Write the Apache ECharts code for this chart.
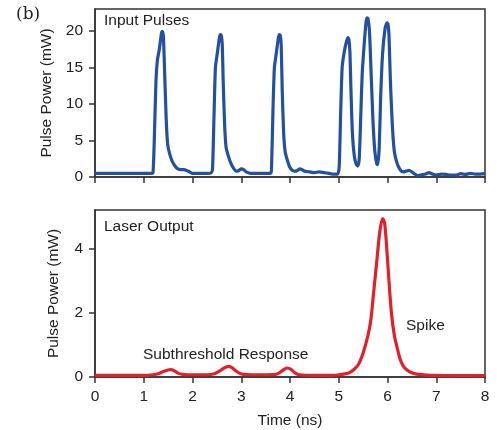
<!DOCTYPE html>
<html>
<head>
<meta charset="utf-8">
<script src="https://cdn.jsdelivr.net/npm/echarts@6/dist/echarts.min.js"></script>
<style>
  html, body { margin: 0; padding: 0; background: #fff; }
  #chart { width: 497px; height: 430px; }
</style>
</head>
<body>
<div id="chart"></div>
<script>
// Input optical pulses: [time (ns), power (mW)]
const inputPulses = [
  [0,0.5],[0.2,0.5],[0.4,0.5],[0.6,0.5],[0.8,0.5],[1.0,0.5],[1.15,0.5],[1.19,0.6],
  [1.22,6],[1.25,13],[1.28,16],[1.32,17.5],[1.355,19.3],[1.37,19.9],[1.39,19.9],[1.405,19.0],[1.43,14],
  [1.46,8],[1.49,4.5],[1.53,3.2],[1.58,2.2],[1.64,1.5],[1.70,1.1],[1.76,1.0],[1.82,1.0],
  [1.88,0.9],[1.94,0.7],[2.0,0.5],[2.1,0.5],[2.2,0.5],[2.3,0.5],[2.38,0.55],[2.41,1],
  [2.44,8],[2.47,15],[2.51,17],[2.55,19],[2.57,19.5],[2.59,19.4],[2.61,18.2],[2.63,13],[2.66,7],
  [2.69,4],[2.73,3],[2.78,2],[2.84,1.2],[2.9,0.8],[2.95,0.9],[3.0,1.1],[3.05,1.0],
  [3.1,0.7],[3.2,0.5],[3.3,0.5],[3.4,0.5],[3.5,0.5],[3.6,0.5],[3.62,1],[3.65,9],
  [3.68,15],[3.72,17],[3.76,19],[3.78,19.5],[3.80,19.4],[3.82,18],[3.84,12],[3.87,6],[3.90,3.5],
  [3.95,2.2],[4.0,1.3],[4.05,0.9],[4.1,0.8],[4.15,0.9],[4.2,1.1],[4.25,1.0],[4.3,0.8],
  [4.4,0.7],[4.5,0.6],[4.6,0.7],[4.7,0.6],[4.8,0.5],[4.9,0.4],[4.98,0.4],[5.01,1.5],
  [5.04,9],[5.07,15],[5.11,17],[5.16,18.6],[5.19,19.1],[5.21,18.8],[5.23,17],[5.25,12],[5.28,6],
  [5.32,2.8],[5.36,1.7],[5.39,1.5],[5.42,2.5],[5.45,8],[5.48,14],[5.52,18],[5.56,21.2],
  [5.58,21.8],[5.60,21.7],[5.63,20],[5.66,15],[5.70,8],[5.74,3.5],[5.78,1.8],[5.80,1.7],[5.83,4],
  [5.86,11],[5.90,17],[5.95,20.3],[5.99,21.1],[6.01,20.9],[6.03,19.5],[6.06,13],[6.1,7],[6.14,3.5],
  [6.2,1.8],[6.26,1.0],[6.32,0.7],[6.38,0.8],[6.44,0.9],[6.5,0.7],[6.56,0.4],[6.62,0.2],
  [6.7,0.3],[6.78,0.4],[6.85,0.6],[6.92,0.4],[7.0,0.25],[7.1,0.4],[7.2,0.35],[7.3,0.25],
  [7.4,0.25],[7.5,0.45],[7.6,0.35],[7.7,0.5],[7.8,0.4],[7.9,0.4],[8.0,0.45]
];

// Laser output: [time (ns), power (mW)]
const laserOutput = [
  [0,0.05],[0.5,0.05],[1.0,0.05],[1.2,0.07],[1.3,0.1],[1.4,0.17],[1.5,0.22],[1.55,0.23],
  [1.62,0.2],[1.7,0.12],[1.8,0.08],[1.9,0.07],[2.1,0.07],[2.3,0.07],[2.45,0.1],[2.55,0.18],
  [2.65,0.28],[2.73,0.33],[2.8,0.3],[2.88,0.2],[2.96,0.12],[3.05,0.08],[3.2,0.07],[3.5,0.07],
  [3.7,0.08],[3.8,0.15],[3.88,0.24],[3.95,0.28],[4.02,0.24],[4.1,0.13],[4.2,0.07],[4.5,0.05],
  [4.9,0.05],[5.0,0.07],[5.1,0.09],[5.2,0.12],[5.3,0.22],[5.4,0.38],[5.5,0.75],[5.6,1.3],
  [5.66,1.8],[5.72,2.7],[5.78,3.6],[5.84,4.5],[5.9,4.93],[5.94,4.8],[5.98,4.1],[6.03,3.0],
  [6.08,2.0],[6.14,1.3],[6.2,0.9],[6.26,0.55],[6.32,0.35],[6.4,0.22],[6.5,0.13],[6.6,0.09],
  [6.8,0.06],[7.0,0.05],[7.5,0.04],[8,0.04]
];

const timeTicks = [0, 1, 2, 3, 4, 5, 6, 7, 8];
const topYTicks = [0, 5, 10, 15, 20];
const bottomYTicks = [0, 2, 4];

const FONT = 'Liberation Sans, Arial, sans-serif';
const FONT_SIZE = 15.5;
const AXIS_COLOR = '#333';
const TEXT_COLOR = '#222';

function xAxisFor(gridIndex, withLabels) {
  return {
    type: 'value', gridIndex,
    min: timeTicks[0], max: timeTicks[timeTicks.length - 1], interval: 1,
    axisLine: { show: true, onZero: false, lineStyle: { color: AXIS_COLOR, width: 1.5 } },
    axisTick: { show: true, inside: false, length: 6, lineStyle: { color: AXIS_COLOR, width: 1.5 } },
    axisLabel: { show: withLabels, margin: 12, fontFamily: FONT, fontSize: FONT_SIZE, color: TEXT_COLOR },
    splitLine: { show: false },
    name: withLabels ? 'Time (ns)' : '',
    nameLocation: 'middle', nameGap: 36,
    nameTextStyle: { fontFamily: FONT, fontSize: FONT_SIZE, color: TEXT_COLOR }
  };
}

function yAxisFor(gridIndex, ticks, max) {
  return {
    type: 'value', gridIndex,
    min: 0, max, interval: ticks[1] - ticks[0],
    axisLine: { show: true, lineStyle: { color: AXIS_COLOR, width: 1.5 } },
    axisTick: { show: true, inside: false, length: 6, lineStyle: { color: AXIS_COLOR, width: 1.5 } },
    axisLabel: {
      margin: 12, fontFamily: FONT, fontSize: FONT_SIZE, color: TEXT_COLOR,
      showMaxLabel: false,
      formatter: v => (ticks.indexOf(v) >= 0 ? String(v) : '')
    },
    splitLine: { show: false },
    name: 'Pulse Power (mW)', nameLocation: 'middle', nameGap: 33,
    nameTextStyle: { fontFamily: FONT, fontSize: FONT_SIZE, color: TEXT_COLOR }
  };
}

const chart = echarts.init(document.getElementById('chart'), null, { renderer: 'canvas' });
chart.setOption({
  animation: false,
  backgroundColor: '#fff',
  title: {
    text: '(b)', left: 11, top: 1,
    textStyle: { fontFamily: 'DejaVu Serif, Liberation Serif, serif', fontSize: 17, fontWeight: 'normal', color: '#222' }
  },
  grid: [
    { left: 95, right: 12, top: 9, height: 168, show: true, borderColor: AXIS_COLOR, borderWidth: 1.5 },
    { left: 95, right: 12, top: 210, height: 167, show: true, borderColor: AXIS_COLOR, borderWidth: 1.5 }
  ],
  xAxis: [xAxisFor(0, false), xAxisFor(1, true)],
  yAxis: [yAxisFor(0, topYTicks, 23), yAxisFor(1, bottomYTicks, 5.2)],
  graphic: [
    { type: 'text', left: 104, top: 13, style: { text: 'Input Pulses', font: FONT_SIZE + 'px ' + FONT, fill: TEXT_COLOR } },
    { type: 'text', left: 104, top: 219, style: { text: 'Laser Output', font: FONT_SIZE + 'px ' + FONT, fill: TEXT_COLOR } },
    { type: 'text', left: 143, top: 347, style: { text: 'Subthreshold Response', font: FONT_SIZE + 'px ' + FONT, fill: TEXT_COLOR } },
    { type: 'text', left: 406, top: 318, style: { text: 'Spike', font: FONT_SIZE + 'px ' + FONT, fill: TEXT_COLOR } }
  ],
  series: [
    {
      type: 'line', xAxisIndex: 0, yAxisIndex: 0, data: inputPulses,
      showSymbol: false, smooth: 0.2,
      lineStyle: { color: '#2450a0', width: 3.2 }
    },
    {
      type: 'line', xAxisIndex: 1, yAxisIndex: 1, data: laserOutput,
      showSymbol: false, smooth: 0.3,
      lineStyle: { color: '#e3202a', width: 3.2 }
    }
  ]
});
</script>
</body>
</html>
